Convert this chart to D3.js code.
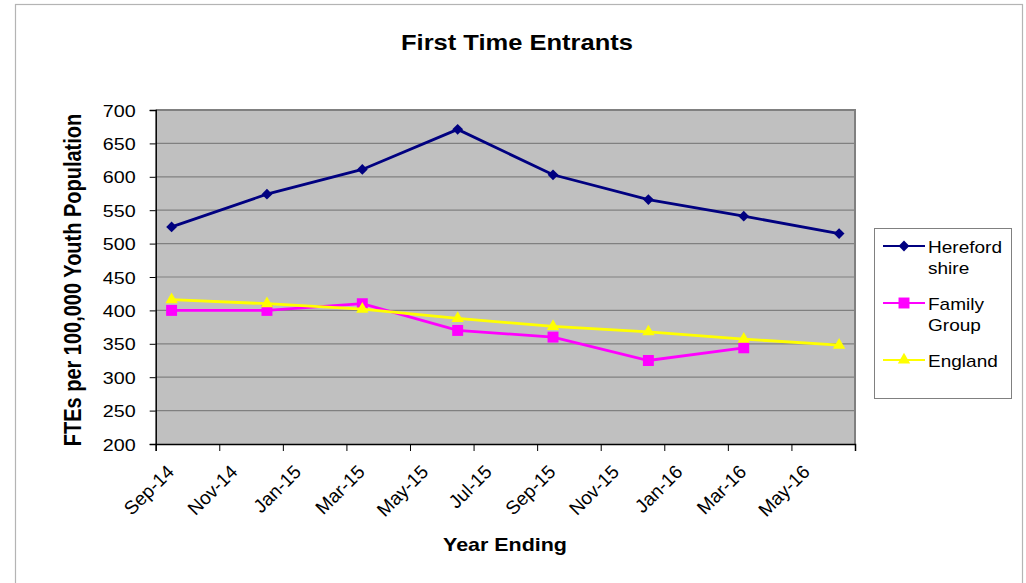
<!DOCTYPE html>
<html>
<head>
<meta charset="utf-8">
<script src="https://cdn.jsdelivr.net/npm/d3@7"></script>
<style>
  body { margin: 0; background: #fff; }
  svg { display: block; font-family: Arial, "Liberation Sans", sans-serif; }
</style>
</head>
<body>
<svg id="chart" width="1026" height="583"></svg>
<script>
// values
var periods = ["Sep-14", "Dec-14", "Mar-15", "Jun-15", "Sep-15", "Dec-15", "Mar-16", "Jun-16"];
var herefordshire = [525, 574, 611, 671, 603, 566, 541, 515];
var familyGroup = [400, 400, 410, 370, 360, 325, 344, null];
var england = [416, 410, 402, 388, 376, 368, 357, 348];
var xTickLabels = ["Sep-14", "Nov-14", "Jan-15", "Mar-15", "May-15", "Jul-15", "Sep-15", "Nov-15", "Jan-16", "Mar-16", "May-16", "Jul-16"];
var yTicks = [200, 250, 300, 350, 400, 450, 500, 550, 600, 650, 700];

var series = [
    {name: ["Hereford", "shire"], values: herefordshire, color: "#000080", symbol: "diamond"},
    {name: ["Family", "Group"], values: familyGroup, color: "#FF00FF", symbol: "square"},
    {name: ["England"], values: england, color: "#FFFF00", symbol: "triangle"}
];

var sx = 1.16; // the original picture is stretched sideways
var svg = d3.select("#chart");
var plot = {left: 155.7, right: 855, top: 110, bottom: 444};

var parseMonth = d3.utcParse("%b-%y");
var axisStart = parseMonth(xTickLabels[0]);
function monthPos(label) {
    return d3.utcMonth.count(axisStart, parseMonth(label));
}

var xScale = d3.scaleLinear()
    .domain([0, monthPos(xTickLabels[xTickLabels.length - 1])])
    .range([plot.left, plot.right]);
var yScale = d3.scaleLinear()
    .domain([200, 700])
    .range([plot.bottom, plot.top]);

// outer frame
svg.append("rect")
    .attr("x", 15.5).attr("y", 4.5)
    .attr("width", 1007).attr("height", 600)
    .attr("fill", "#fff").attr("stroke", "#b4b4b4").attr("stroke-width", 1.2);

// plot background
svg.append("rect")
    .attr("x", plot.left).attr("y", plot.top)
    .attr("width", plot.right - plot.left).attr("height", plot.bottom - plot.top)
    .attr("fill", "#C0C0C0");

// grid
svg.append("g")
    .selectAll("line").data(yTicks.slice(1, -1)).enter()
    .append("line")
    .attr("x1", plot.left).attr("x2", plot.right)
    .attr("y1", (d) => yScale(d)).attr("y2", (d) => yScale(d))
    .attr("stroke", "#808080").attr("stroke-width", 1.2);

// top and right border
svg.append("path")
    .attr("d", "M" + plot.left + "," + plot.top + "H" + plot.right + "V" + plot.bottom)
    .attr("fill", "none").attr("stroke", "#808080").attr("stroke-width", 2);

// y axis
var yAxis = svg.append("g")
    .attr("transform", "translate(" + plot.left + ",0)")
    .call(d3.axisLeft(yScale).tickValues(yTicks).tickSize(6));
yAxis.select(".domain").attr("stroke", "#000").attr("stroke-width", 1.5);
yAxis.selectAll(".tick line").attr("stroke", "#000");
yAxis.selectAll(".tick text")
    .attr("font-size", 17).attr("fill", "#000").attr("font-family", null)
    .attr("dy", "0.36em")
    .attr("x", null)
    .attr("transform", "translate(-20,0) scale(" + sx + ",1)");

// x axis
var xTicks = xTickLabels.map(monthPos);
var xAxis = svg.append("g")
    .attr("transform", "translate(0," + plot.bottom + ")")
    .call(d3.axisBottom(xScale).tickValues(xTicks).tickSize(7)
        .tickFormat((d, i) => i < xTickLabels.length - 1 ? xTickLabels[i] : ""));
xAxis.select(".domain").attr("stroke", "#000").attr("stroke-width", 1.5);
xAxis.selectAll(".tick line").attr("stroke", "#000");
xAxis.selectAll(".tick text")
    .attr("font-size", 19).attr("fill", "#000").attr("font-family", null)
    .attr("text-anchor", "end")
    .attr("x", null).attr("y", null).attr("dy", null)
    .attr("transform", "translate(19,29) rotate(-45)");

// lines and markers
function marker(kind) {
    if (kind === "diamond") return d3.symbol().type(d3.symbolSquare).size(58)();
    if (kind === "square") return d3.symbol().type(d3.symbolSquare).size(120)();
    return d3.symbol().type(d3.symbolTriangle).size(66)();
}

series.forEach((s) => {
    var pts = periods.map((p, i) => ({x: monthPos(p) + 0.5, y: s.values[i]}))
        .filter((d) => d.y !== null);
    var line = d3.line().x((d) => xScale(d.x)).y((d) => yScale(d.y));
    svg.append("path")
        .datum(pts)
        .attr("d", line)
        .attr("fill", "none")
        .attr("stroke", s.color)
        .attr("stroke-width", 2.8);
    svg.append("g").selectAll("path").data(pts).enter()
        .append("path")
        .attr("d", marker(s.symbol))
        .attr("fill", s.color)
        .attr("transform", (d) => "translate(" + xScale(d.x) + "," + yScale(d.y) + ")" +
            (s.symbol === "diamond" ? " rotate(45)" : ""));
});

// titles
svg.append("text")
    .attr("transform", "translate(517,50) scale(" + sx + ",1)")
    .attr("text-anchor", "middle")
    .attr("font-size", 22).attr("font-weight", "bold")
    .text("First Time Entrants");
svg.append("text")
    .attr("transform", "translate(505,551) scale(" + sx + ",1)")
    .attr("text-anchor", "middle")
    .attr("font-size", 18.5).attr("font-weight", "bold")
    .text("Year Ending");
svg.append("text")
    .attr("transform", "translate(81,280) scale(" + sx + ",1) rotate(-90)")
    .attr("text-anchor", "middle")
    .attr("font-size", 20).attr("font-weight", "bold")
    .text("FTEs per 100,000 Youth Population");

// legend
var legend = svg.append("g");
legend.append("rect")
    .attr("x", 874.5).attr("y", 228.5).attr("width", 137).attr("height", 170)
    .attr("fill", "#fff").attr("stroke", "#808080").attr("stroke-width", 1);
var legendY = [246, 303, 360];
series.forEach((s, i) => {
    var g = legend.append("g").attr("transform", "translate(0," + legendY[i] + ")");
    g.append("line").attr("x1", 883).attr("x2", 925).attr("y1", 0).attr("y2", 0)
        .attr("stroke", s.color).attr("stroke-width", 2);
    g.append("path").attr("d", marker(s.symbol)).attr("fill", s.color)
        .attr("transform", "translate(904,0)" + (s.symbol === "diamond" ? " rotate(45)" : ""));
    s.name.forEach((t, j) => {
        g.append("text")
            .attr("transform", "translate(928," + (6.5 + j * 21.5) + ") scale(1.12,1)")
            .attr("font-size", 17)
            .text(t);
    });
});
</script>
</body>
</html>
